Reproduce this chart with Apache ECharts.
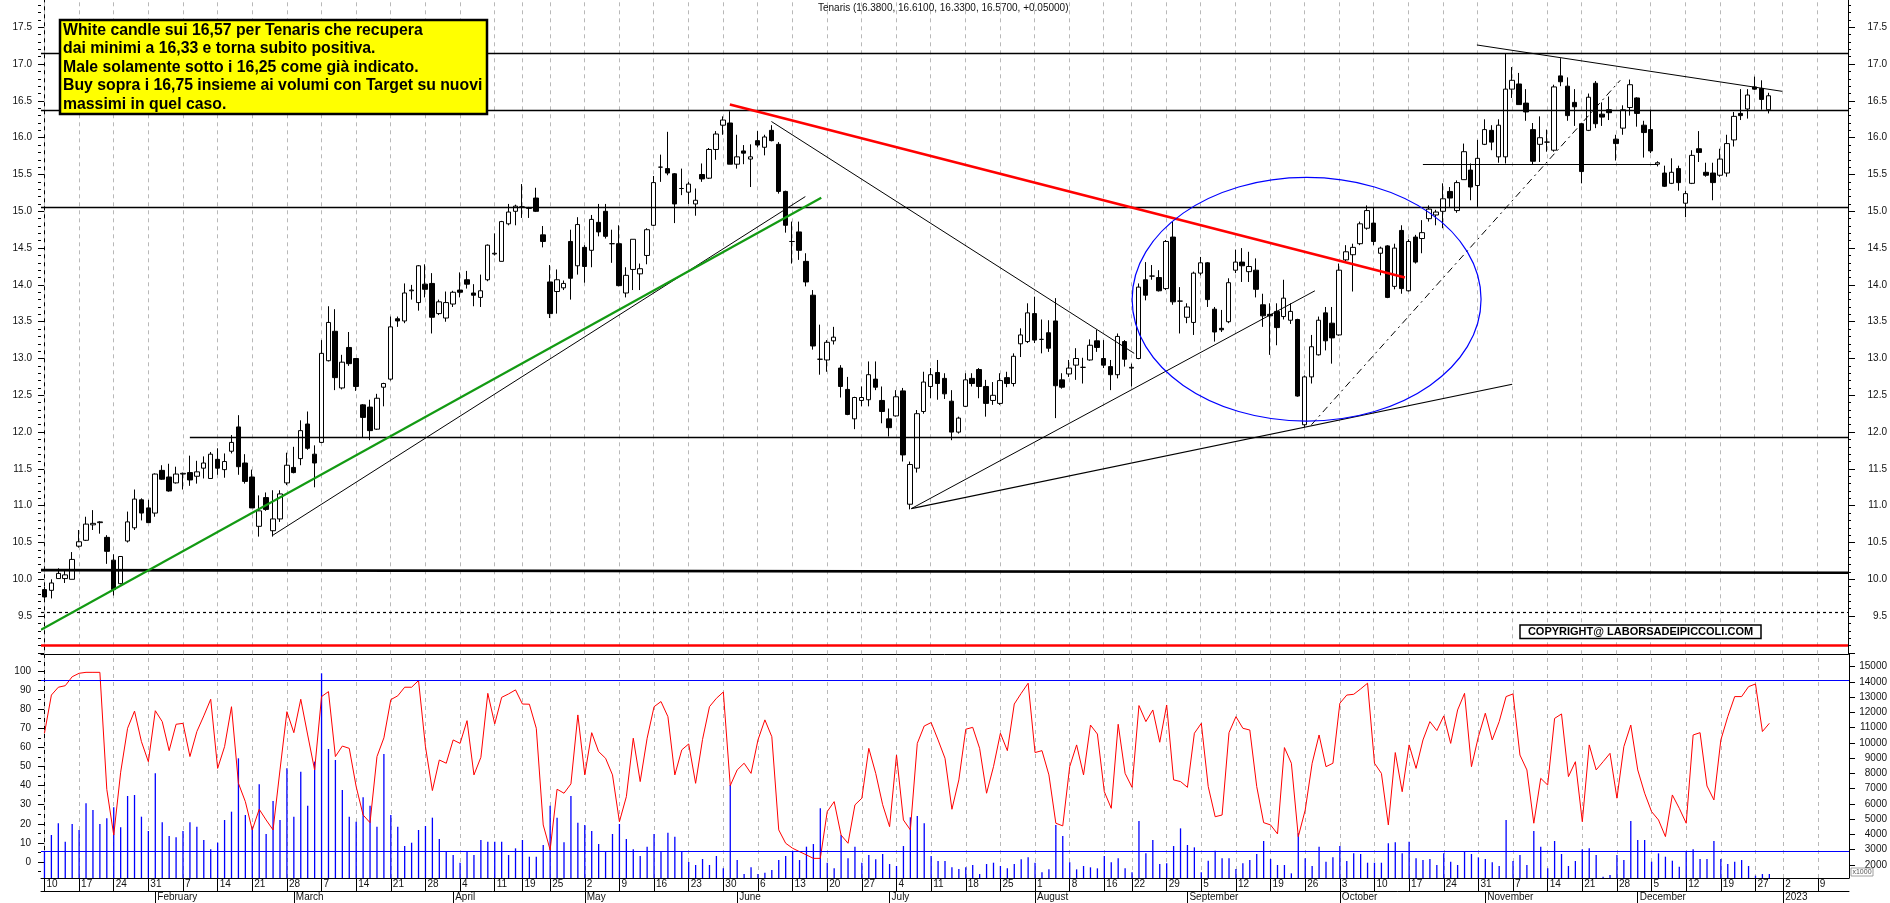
<!DOCTYPE html>
<html><head><meta charset="utf-8">
<script src="https://cdn.jsdelivr.net/npm/echarts@6/dist/echarts.min.js"></script>
<style>html,body{margin:0;padding:0;background:#fff;}#c{width:1890px;height:903px;}</style>
</head><body><div id="c"></div>
<script>
// ---------- DATA ----------
const holidays = ['2022-04-15','2022-04-18','2022-08-15','2022-12-26'];
const firstDay = '2022-01-10', lastDay = '2023-01-13';
const monthNames = ['January','February','March','April','May','June','July','August','September','October','November','December'];
const noteLines = [
 'White candle sui 16,57 per Tenaris che recupera',
 'dai minimi a 16,33 e torna subito positiva.',
 'Male solamente sotto i 16,25 come già indicato.',
 'Buy sopra i 16,75 insieme ai volumi con Target su nuovi',
 'massimi in quel caso.'
];
const titleText = 'Tenaris (16.3800, 16.6100, 16.3300, 16.5700, +0.05000)';
const copyrightText = 'COPYRIGHT@ LABORSADEIPICCOLI.COM';

const openP = [9.86,9.85,10.01,10.01,10.00,10.45,10.53,10.74,10.77,10.57,
10.26,9.94,10.52,10.70,11.08,10.97,10.90,11.48,11.39,11.31,
11.43,11.45,11.40,11.51,11.37,11.63,11.49,11.74,12.07,11.58,
11.39,10.72,11.11,10.66,10.82,11.31,11.52,11.64,12.11,11.70,
11.86,12.97,13.37,12.60,13.15,13.00,12.37,12.34,12.04,12.61,
12.72,13.54,13.51,13.92,13.76,14.01,14.02,13.61,13.55,13.74,
13.93,14.07,13.89,13.83,14.07,14.42,14.32,14.83,15.00,15.06,
15.05,15.18,14.68,14.04,13.91,13.96,14.59,14.26,14.51,14.47,
14.85,15.00,14.56,14.56,13.89,14.21,14.15,14.40,14.81,15.60,
15.58,15.51,15.31,15.26,15.10,15.50,15.45,15.84,16.17,16.20,
15.64,15.82,15.71,15.96,15.87,16.10,15.91,15.27,14.59,14.72,
14.32,13.86,12.99,12.98,13.24,12.87,12.58,12.18,12.43,12.44,
12.72,12.43,12.18,12.22,12.56,11.02,11.51,12.28,12.62,12.81,
12.73,12.42,12.00,12.35,12.73,12.85,12.62,12.43,12.39,12.74,
12.66,13.20,13.23,13.61,13.26,13.35,13.51,12.71,12.79,12.91,
12.88,12.98,13.24,13.00,12.89,12.78,13.23,12.87,13.00,14.07,
14.12,14.10,13.95,14.65,13.78,13.56,13.49,14.16,14.30,13.67,
13.41,13.50,14.20,14.31,14.18,14.20,13.73,13.60,13.64,13.57,
13.52,13.53,12.10,12.75,13.05,13.62,13.48,13.32,14.34,14.41,
14.56,14.77,14.84,14.43,14.53,13.98,14.74,13.92,14.65,14.63,
14.90,14.95,15.00,15.27,15.01,15.43,15.56,15.35,15.91,16.10,
15.74,15.74,16.66,16.73,16.47,16.11,15.91,15.94,15.83,16.84,
16.70,16.48,16.19,16.10,16.74,16.32,16.38,15.98,16.13,16.41,
16.54,16.17,16.11,15.64,15.52,15.38,15.58,15.11,15.38,15.85,
15.53,15.52,15.49,15.52,15.97,16.33,16.39,16.69,16.67,16.38];
const highP = [9.90,10.00,10.15,10.13,10.37,10.67,10.85,10.94,10.79,10.60,
10.34,10.31,10.92,11.22,11.10,11.08,11.44,11.55,11.57,11.53,
11.45,11.68,11.61,11.67,11.73,11.78,11.71,11.96,12.23,11.70,
11.49,11.14,11.18,11.21,11.21,11.72,11.80,12.16,12.28,11.82,
13.25,13.71,13.67,13.05,13.36,13.00,12.38,12.44,12.52,12.67,
13.57,13.57,14.02,14.00,14.27,14.28,14.16,13.80,13.91,13.92,
14.17,14.19,14.01,14.14,14.55,14.70,14.87,15.10,15.09,15.37,
15.06,15.32,14.80,14.27,14.21,14.06,14.75,14.92,14.54,14.95,
15.10,15.10,14.75,14.81,14.24,14.62,14.29,14.77,15.48,15.77,
16.08,15.52,15.58,15.40,15.31,15.65,15.86,16.09,16.29,16.36,
16.04,15.90,15.91,16.09,16.04,16.17,15.94,15.28,14.86,14.86,
14.43,13.93,13.46,13.25,13.43,12.91,12.75,12.48,12.62,12.96,
12.96,12.62,12.32,12.57,12.60,11.60,12.30,12.82,12.87,12.98,
12.80,12.57,12.21,12.80,12.80,12.87,12.71,12.68,12.80,12.82,
13.07,13.41,13.75,13.84,13.53,13.52,13.82,12.80,12.98,13.14,
13.01,13.26,13.39,13.25,12.98,13.34,13.25,12.93,14.02,14.31,
14.27,14.20,14.61,14.86,13.97,13.75,14.18,14.38,14.31,13.70,
13.66,14.09,14.48,14.50,14.45,14.36,13.88,13.75,13.75,14.07,
13.75,13.54,12.77,13.32,13.57,13.70,13.70,14.29,14.54,14.56,
14.86,15.08,15.06,14.52,14.54,14.56,14.81,14.62,14.68,14.88,
15.08,15.02,15.38,15.33,15.42,15.92,15.65,15.97,16.25,16.17,
16.25,17.15,16.96,16.88,16.66,16.20,16.29,16.11,16.72,17.08,
16.82,16.66,16.20,16.60,16.77,16.48,16.56,16.04,16.44,16.79,
16.55,16.23,16.38,15.68,15.62,15.72,15.62,15.28,15.83,16.09,
15.66,15.66,15.85,16.04,16.35,16.66,16.66,16.83,16.78,16.61];
const lowP = [9.74,9.74,10.01,9.95,10.00,10.43,10.52,10.67,10.62,10.21,
9.78,9.93,10.50,10.67,10.80,10.77,10.85,11.35,11.19,11.30,
11.22,11.27,11.30,11.37,11.37,11.42,11.38,11.71,11.42,11.30,
10.97,10.58,10.93,10.58,10.78,11.28,11.44,11.55,11.76,11.25,
11.85,12.96,12.57,12.58,12.90,12.56,11.93,11.89,12.03,12.35,
12.70,13.43,13.48,13.80,13.65,13.83,13.34,13.59,13.50,13.70,
13.83,13.95,13.71,13.70,14.05,14.40,14.32,14.81,14.81,14.91,
14.91,14.99,14.51,13.55,13.61,13.93,13.80,14.14,14.03,14.24,
14.66,14.63,14.30,13.98,13.83,13.93,13.93,14.28,14.80,15.40,
15.49,14.84,15.22,15.10,14.94,15.40,15.44,15.70,16.04,15.64,
15.58,15.64,15.33,15.87,15.76,15.95,15.24,14.71,14.29,14.34,
13.98,13.12,12.78,12.82,13.19,12.47,12.23,12.04,12.35,12.35,
12.57,12.12,11.94,12.21,11.60,10.95,11.45,12.25,12.46,12.44,
12.45,11.89,11.98,12.34,12.62,12.46,12.21,12.37,12.37,12.61,
12.62,13.02,13.21,13.21,13.07,13.09,12.19,12.59,12.75,12.71,
12.66,12.97,13.09,12.87,12.57,12.73,12.89,12.62,12.99,13.79,
14.07,13.91,13.93,13.73,13.34,13.48,13.32,14.13,13.70,13.23,
13.36,13.48,14.16,14.04,14.04,13.83,13.43,13.05,13.18,13.53,
13.47,12.48,12.07,12.66,13.04,13.11,12.93,13.31,14.31,13.91,
14.54,14.75,14.54,14.13,13.82,13.94,13.88,13.91,14.29,14.43,
14.86,14.81,14.77,15.06,14.98,15.43,15.15,15.06,15.90,15.83,
15.66,15.65,16.54,16.45,16.23,15.63,15.67,15.81,15.81,16.70,
16.23,16.16,15.38,16.09,16.13,16.16,16.24,15.69,16.04,16.30,
16.15,15.73,15.79,15.61,15.33,15.37,15.28,14.92,15.37,15.67,
15.47,15.15,15.47,15.47,15.88,16.24,16.26,16.65,16.38,16.33];
const closeP = [9.76,9.95,10.08,10.06,10.27,10.51,10.75,10.76,10.78,10.38,
9.86,10.31,10.78,11.09,10.90,10.77,11.43,11.36,11.20,11.43,
11.44,11.35,11.46,11.58,11.70,11.51,11.60,11.86,11.53,11.33,
10.97,10.93,10.95,10.82,11.16,11.55,11.45,12.02,11.78,11.58,
13.07,13.49,12.74,12.95,12.93,12.62,12.20,12.02,12.46,12.66,
13.43,13.51,13.89,13.93,14.26,13.94,13.56,13.77,13.76,13.90,
13.90,14.01,13.86,13.92,14.54,14.43,14.86,14.99,15.07,15.06,
15.04,15.00,14.59,13.61,14.07,14.02,14.09,14.82,14.25,14.89,
14.72,14.66,14.56,13.99,14.13,14.62,14.22,14.75,15.39,15.60,
15.52,15.10,15.31,15.37,15.15,15.44,15.84,16.05,16.24,15.64,
15.74,15.79,15.74,15.90,16.01,15.96,15.27,14.81,14.59,14.47,
14.04,13.17,12.99,13.22,13.29,12.62,12.24,12.47,12.47,12.78,
12.61,12.28,12.06,12.48,11.69,11.56,12.25,12.68,12.78,12.66,
12.52,12.00,12.19,12.71,12.66,12.62,12.39,12.50,12.70,12.66,
13.03,13.32,13.62,13.25,13.26,13.14,12.63,12.61,12.87,13.00,
12.88,13.18,13.15,12.91,12.78,13.30,12.99,12.88,13.97,13.86,
14.12,13.92,14.59,13.77,13.78,13.70,14.16,14.30,13.80,13.36,
13.39,14.03,14.31,14.26,14.25,13.94,13.58,13.58,13.42,13.82,
13.64,12.49,12.75,13.16,13.52,13.24,13.28,14.20,14.45,14.51,
14.83,15.01,14.59,14.50,13.83,14.50,13.95,14.59,14.31,14.71,
15.03,14.99,15.17,15.18,15.39,15.81,15.33,15.72,16.11,15.94,
16.17,16.66,16.78,16.45,16.35,15.68,16.00,15.94,16.69,16.76,
16.30,16.42,15.54,16.55,16.19,16.28,16.34,15.92,16.38,16.72,
16.33,16.07,15.82,15.66,15.34,15.53,15.39,15.24,15.76,15.80,
15.49,15.39,15.71,15.92,16.29,16.30,16.58,16.66,16.52,16.57];
const stochK = [67.4,87.4,91.5,92.3,97.0,98.8,99.3,99.3,99.3,38,
14.1,47,70,79,63,52.5,79.2,73.5,58.3,72.1,
72.6,55.2,68.3,76.5,85.2,49,60.4,81.3,41.2,31.6,
16.8,27.6,22,16.8,48.2,78.7,67.7,85.2,66.5,48.2,
86.6,89.2,55.2,60.7,59.5,39.4,24.6,20.6,55.2,65,
85,87,91.5,91.5,95,60.4,37.4,53.4,51.7,63.9,
62.1,74,45.6,54.8,88.3,72.3,86.2,88,90.1,82.7,
82.6,70,19.4,6.3,38.1,36,40.9,77,45.6,67.7,
57.8,54.3,45.6,21.1,34.2,64.8,42.1,64.8,81.3,84,
76.1,45.6,58.7,61.8,41.2,64.2,81.3,85.7,89,40,
48.2,51.7,46.4,63.9,74.4,65.6,16.8,9.8,7.2,5.4,
3.7,1.9,1.9,26.4,31.6,14.1,9.8,29.9,33.4,59.5,
46.4,30,18.5,56,22,16.8,62.1,71.2,73,63.9,
54.3,27.6,43,69.5,70.5,59.5,36,49.9,67.4,58.3,
82.7,88.3,93.6,57.3,58.3,45.6,20.3,18.9,49.9,61.3,
45.6,71.7,67,36.8,28.1,72.1,46.4,39.1,81.9,73.5,
79.6,62.7,82.2,43,42.1,39.1,67.4,72.6,39.5,23.7,
24.6,67.7,76.1,70,69.1,39.5,20.6,19.4,14.7,59.9,
51.7,13.3,27.2,51.7,66.5,49.9,51.7,83.1,87.4,87.8,
90.6,93.6,51.7,46.4,19.4,57.3,36.8,61.3,49,63.9,
73.5,68.8,76.5,62.1,79.6,88.3,49.9,65.6,77.9,63.9,
73.5,86.6,88,56,48.2,20.3,43.8,40.3,75.2,77.5,
44.7,52.5,21.1,61.3,48.2,52.5,56.9,33.4,60.4,71.7,
48.2,36,26.4,22,13.3,35.1,28.1,20.3,66.5,67.7,
39.8,32.5,63.9,76.1,86.6,86.6,91.8,93.2,68.3,72.6];
const volumeK = [2872,3965,4730,3527,4686,4293,6042,5604,4686,5058,
5780,4468,6523,6588,5168,4227,8009,4796,3900,3812,
4227,4796,4511,3637,3025,3462,4949,5495,8993,5277,
4468,7288,4031,6195,4949,8337,5168,8118,5889,8774,
14567,9605,8884,6916,5168,4840,6435,5889,4511,9277,
5277,4511,3243,3462,4293,4555,5102,3702,2872,2653,
2150,2872,2653,3637,3527,3527,3527,2653,3091,3637,
2544,2544,3309,5889,5102,3484,6523,4774,4621,4227,
3374,2872,4031,4686,3702,3025,2588,3200,4031,2872,
4118,3856,2872,2194,2000,2391,2000,2588,1780,7244,
2325,1407,1846,1407,1495,1670,2325,2588,2872,2325,
3200,3374,5714,2150,1780,3965,2435,3200,2150,2653,
2369,2719,2063,1932,3243,5124,5211,4730,2588,2260,
2260,1846,1736,1846,2000,1407,2063,2150,1932,1780,
2063,2369,2500,2150,1517,1714,4621,3900,2172,1714,
1932,1846,1780,2588,2172,2435,1780,1517,4883,2762,
3637,2063,2106,3243,4402,3309,3156,1517,2281,2937,
2435,2435,1736,2106,2325,2719,3571,2391,2000,2000,
1451,4074,2435,1932,3200,2216,2500,3243,2260,2762,
2719,2150,2150,2150,3418,3484,2762,3527,2435,2325,
2391,2000,2762,2216,2000,2872,2719,2500,2391,2172,
1932,4949,2260,2653,2000,4227,3200,1780,3571,2719,
1932,2260,3025,3091,2653,1232,1342,2653,2325,4883,
3637,3637,2216,2762,2544,2281,1889,2872,3025,2391,
2391,3571,2391,2063,2216,2325,1932,1300,1407,1407];

const priceLabels = [9.5,10,10.5,11,11.5,12,12.5,13,13.5,14,14.5,15,15.5,16,16.5,17,17.5];
const stochLabels = [0,10,20,30,40,50,60,70,80,90,100];
const volumeLabels = [2000,3000,4000,5000,6000,7000,8000,9000,10000,11000,12000,13000,14000,15000];

// annotation lines: [x0 (day index), y0 (price), x1, y1]
const levelLines = [17.15, 16.37, 15.05];
const trendGreen = [-0.5, 9.315, 112.2, 15.185];
const trendThin1 = [33.0, 10.60, 109.9, 15.20];
const trendThin2 = [105.0, 16.22, 157.4, 13.07];
const trendRed = [99.0, 16.45, 196.5, 14.10];
const trendJul1 = [125.2, 10.96, 183.5, 13.92];
const trendJul2 = [125.2, 10.96, 212.0, 12.65];
const trendDash = [183.0, 12.10, 227.6, 16.78];
const trendNov = [206.9, 17.26, 251.0, 16.63];
const segment1564 = [199.1, 15.64, 233.0, 15.64];
const segment1193 = [21.0, 11.93, 260.5, 11.93];
const thickBase = [-0.5, 10.125, 260.5, 10.09];
const dashedLevel = 9.55, redLevel = 9.10;
const ellipseAnn = {cx: 182.3, cy: 13.805, rx: 25.2, ry: 1.655};
const stochLevels = [95, 5.8];

// ---------- CALENDAR ----------
function tradingDays(){
  const out = [];
  const p = s => { const a = s.split('-').map(Number); return Date.UTC(a[0], a[1]-1, a[2]); };
  for (let t = p(firstDay); t <= p(lastDay); t += 86400000) {
    const d = new Date(t), wd = d.getUTCDay(), s = d.toISOString().slice(0,10);
    if (wd !== 0 && wd !== 6 && holidays.indexOf(s) < 0) out.push(s);
  }
  return out;
}
const categories = tradingDays();
const weekStart = categories.map((s,i) => {
  if (i === 0) return true;
  const a = new Date(s+'T00:00:00Z'), b = new Date(categories[i-1]+'T00:00:00Z');
  return a.getUTCDay() <= b.getUTCDay() || (a - b) > 4*86400000;
});
const monthStart = categories.map((s,i) => i > 0 && s.slice(5,7) !== categories[i-1].slice(5,7));
const weekIdx = [], monthIdx = [];
weekStart.forEach((w,i)=>{ if (w) weekIdx.push(i); });
monthStart.forEach((m,i)=>{ if (m) monthIdx.push(i); });

// ---------- CHART ----------
const FONT = '"Liberation Sans", Arial, sans-serif';
const P_MIN = 8.981, P_MAX = 17.871, S_MIN = -8.38, S_MAX = 108.74, V_MIN = 1147, V_MAX = 15813;
const range = (a,b,s) => { const r=[]; for (let v=a; v<=b+1e-9; v+=s) r.push(Math.round(v*1000)/1000); return r; };

const seg = (a, style) => ({coords: [[a[0], a[1]], [a[2], a[3]]], lineStyle: style});
const full = (v, style) => seg([-0.5, v, 260.5, v], style);

const candleData = openP.map((o,i)=>[o, closeP[i], lowP[i], highP[i]]);

const chart = echarts.init(document.getElementById('c'), null, {renderer:'canvas'});
const axisText = {color:'#111', fontSize:10, fontFamily:FONT};

const option = {
  animation: false,
  backgroundColor: '#fff',
  grid: [
    {left: 41, right: 41, top: 0, height: 654.3},
    {left: 41, right: 41, top: 654.3, bottom: 25}
  ],
  xAxis: [
    {type:'category', gridIndex:0, data:categories, boundaryGap:true,
     axisLine:{show:true, onZero:false, lineStyle:{color:'#000', width:1}},
     axisTick:{show:false}, axisLabel:{show:false}, splitLine:{show:false}},
    {type:'category', gridIndex:1, data:categories, boundaryGap:true,
     axisLine:{show:true, onZero:false, lineStyle:{color:'#000', width:1}},
     axisTick:{show:true, alignWithLabel:true, interval:(i)=>weekStart[i], length:13, lineStyle:{color:'#000'}},
     axisLabel:Object.assign({interval:(i)=>weekStart[i], formatter:(v)=>String(+v.slice(8)), align:'left', padding:[0,0,0,2], margin:1}, axisText),
     splitLine:{show:false}},
    {type:'value', gridIndex:0, min:-0.5, max:260.5, show:false},
    {type:'category', gridIndex:1, data:categories, boundaryGap:true, position:'bottom', offset:13,
     axisLine:{show:true, onZero:false, lineStyle:{color:'#000', width:1}},
     axisTick:{show:true, alignWithLabel:true, interval:(i)=>monthStart[i], length:12, lineStyle:{color:'#000'}},
     axisLabel:Object.assign({interval:(i)=>monthStart[i], formatter:(v)=>{const m=+v.slice(5,7)-1; return m===0 ? v.slice(0,4) : monthNames[m];}, align:'left', padding:[0,0,0,2], margin:1}, axisText),
     splitLine:{show:false}},
    {type:'value', gridIndex:1, min:-0.5, max:260.5, show:false}
  ],
  yAxis: [
    {type:'value', gridIndex:0, position:'left', min:P_MIN, max:P_MAX, scale:true,
     axisLine:{show:true, lineStyle:{color:'#000'}},
     axisTick:{show:true, customValues:range(9,17.5,0.5), length:6, lineStyle:{color:'#000'}},
     axisLabel:Object.assign({customValues:priceLabels, formatter:(v)=>v.toFixed(1), margin:9}, axisText),
     splitLine:{show:false}},
    {type:'value', gridIndex:0, position:'right', min:P_MIN, max:P_MAX, scale:true,
     axisLine:{show:true, lineStyle:{color:'#000'}},
     axisTick:{show:true, customValues:range(9,17.5,0.5), length:7, lineStyle:{color:'#000'}},
     axisLabel:Object.assign({customValues:priceLabels, formatter:(v)=>v.toFixed(1), margin:39, align:'right'}, axisText),
     splitLine:{show:false}},
    {type:'value', gridIndex:0, position:'left', min:P_MIN, max:P_MAX, scale:true,
     axisLine:{show:false}, axisTick:{show:true, customValues:range(9,17.8,0.1), length:3, lineStyle:{color:'#000'}},
     axisLabel:{show:false}, splitLine:{show:false}},
    {type:'value', gridIndex:0, position:'right', min:P_MIN, max:P_MAX, scale:true,
     axisLine:{show:false}, axisTick:{show:true, customValues:range(9,17.8,0.1), length:3, lineStyle:{color:'#000'}},
     axisLabel:{show:false}, splitLine:{show:false}},
    {type:'value', gridIndex:1, position:'left', min:S_MIN, max:S_MAX, scale:true,
     axisLine:{show:true, lineStyle:{color:'#000'}},
     axisTick:{show:true, customValues:stochLabels, length:6, lineStyle:{color:'#000'}},
     axisLabel:Object.assign({customValues:stochLabels, formatter:(v)=>String(v), margin:10}, axisText),
     splitLine:{show:false}},
    {type:'value', gridIndex:1, position:'right', min:V_MIN, max:V_MAX, scale:true,
     axisLine:{show:true, lineStyle:{color:'#000'}},
     axisTick:{show:true, customValues:volumeLabels, length:6, lineStyle:{color:'#000'}},
     axisLabel:Object.assign({customValues:volumeLabels, formatter:(v)=>String(v), margin:38, align:'right'}, axisText),
     splitLine:{show:false}},
    {type:'value', gridIndex:1, position:'left', min:S_MIN, max:S_MAX, scale:true,
     axisLine:{show:false}, axisTick:{show:true, customValues:range(-5,105,5), length:3, lineStyle:{color:'#000'}},
     axisLabel:{show:false}, splitLine:{show:false}}
  ],
  series: [
    {type:'lines', coordinateSystem:'cartesian2d', xAxisIndex:2, yAxisIndex:0, z:1, silent:true,
     lineStyle:{color:'#b8b8b8', width:1, type:[4,4], opacity:1},
     data: weekIdx.map(i=>({coords:[[i,P_MIN],[i,P_MAX]]}))},
    {type:'lines', coordinateSystem:'cartesian2d', xAxisIndex:4, yAxisIndex:4, z:1, silent:true,
     lineStyle:{color:'#b8b8b8', width:1, type:[4,4], opacity:1},
     data: weekIdx.map(i=>({coords:[[i,S_MIN],[i,S_MAX]]}))},
    {type:'candlestick', name:'Tenaris', xAxisIndex:0, yAxisIndex:0, z:3, barWidth:5,
     data: candleData,
     itemStyle:{color:'#ffffff', color0:'#000000', borderColor:'#000000', borderColor0:'#000000', borderWidth:1}},
    {type:'lines', coordinateSystem:'cartesian2d', xAxisIndex:2, yAxisIndex:0, z:4, silent:true,
     lineStyle:{opacity:1},
     data: [
       ...levelLines.map(v=>full(v, {color:'#000', width:1.3})),
       seg(segment1193, {color:'#000', width:1.3}),
       seg(thickBase, {color:'#000', width:2.6}),
       full(dashedLevel, {color:'#000', width:1.2, type:[3,3]}),
       full(redLevel, {color:'#ff0000', width:2.6}),
       seg(trendThin1, {color:'#000', width:1}),
       seg(trendGreen, {color:'#139a13', width:2.2}),
       seg(trendThin2, {color:'#000', width:1}),
       seg(trendRed, {color:'#ff0000', width:2.6}),
       seg(trendJul1, {color:'#000', width:1}),
       seg(trendJul2, {color:'#000', width:1.2}),
       seg(trendDash, {color:'#000', width:1, type:[7,4,2,4]}),
       seg(trendNov, {color:'#000', width:1}),
       seg(segment1564, {color:'#000', width:1.2})
     ]},
    {type:'bar', name:'Volume', xAxisIndex:1, yAxisIndex:5, z:2, barWidth:1.3, clip:true,
     itemStyle:{color:'#0000ff'}, data: volumeK},
    {type:'line', name:'Stochastic', xAxisIndex:1, yAxisIndex:4, z:3, symbol:'none',
     lineStyle:{color:'#ff0000', width:1}, data: stochK,
     markLine:{silent:true, symbol:'none', label:{show:false}, animation:false,
       lineStyle:{color:'#0000ff', width:1.2, type:'solid'},
       data: stochLevels.map(v=>({yAxis:v}))}}
  ]
};
chart.setOption(option);

const c0 = chart.convertToPixel({seriesIndex:3}, [ellipseAnn.cx, ellipseAnn.cy]);
const c1 = chart.convertToPixel({seriesIndex:3}, [ellipseAnn.cx + ellipseAnn.rx, ellipseAnn.cy - ellipseAnn.ry]);
const ZT = 100;
chart.setOption({
  graphic: [
    {type:'ellipse', z:50, silent:true, shape:{cx:c0[0], cy:c0[1], rx:Math.abs(c1[0]-c0[0]), ry:Math.abs(c1[1]-c0[1])},
     style:{fill:null, stroke:'#0000ff', lineWidth:1.2}},
    {type:'text', z:ZT, left:818, top:3, style:{text:titleText, font:'10px '+FONT, fill:'#111'}},
    {type:'rect', z:ZT, shape:{x:60, y:20, width:427, height:94}, style:{fill:'#ffff00', stroke:'#000', lineWidth:2.5}},
    {type:'text', z:ZT+1, x:63, y:21, style:{text:noteLines.join('\n'), font:'bold 15.8px '+FONT, fill:'#000', lineHeight:18.6}},
    {type:'rect', z:ZT, shape:{x:1520, y:625, width:241, height:13.5}, style:{fill:'#fff', stroke:'#000', lineWidth:1.5}},
    {type:'text', z:ZT+1, x:1640.5, y:632, style:{text:copyrightText, font:'bold 11px '+FONT, fill:'#000', align:'center', verticalAlign:'middle'}},
    {type:'rect', z:ZT, shape:{x:1851, y:868, width:22, height:8}, style:{fill:'#fff', stroke:'#888', lineWidth:0.8}},
    {type:'text', z:ZT+1, x:1862, y:872.2, style:{text:'x1000', font:'7px '+FONT, fill:'#555', align:'center', verticalAlign:'middle'}}
  ]
});
</script>
</body></html>
